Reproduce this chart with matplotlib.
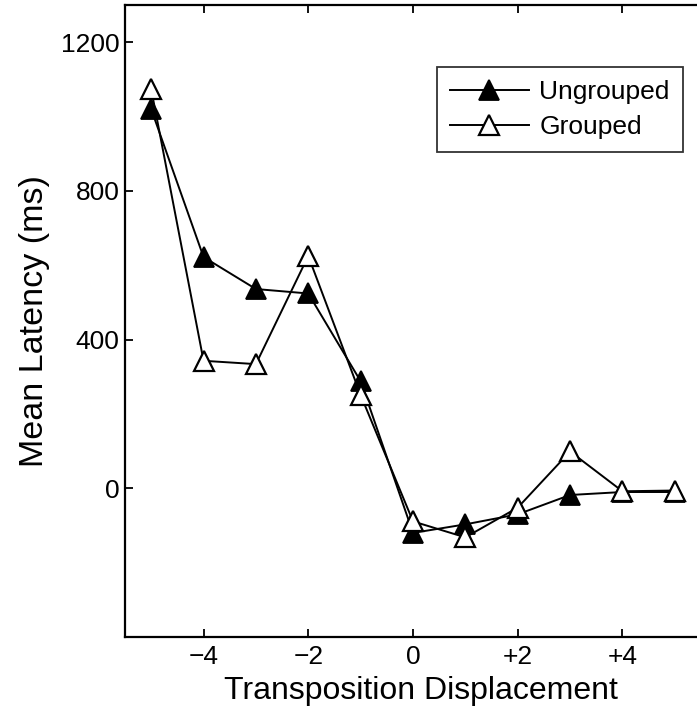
import matplotlib
matplotlib.use("Agg")
import matplotlib.pyplot as plt

plt.rcParams['font.family'] = ['Liberation Sans', 'DejaVu Sans']

displacement = [-5, -4, -3, -2, -1, 0, 1, 2, 3, 4, 5]
ungrouped = [1020, 622, 536, 524, 288, -120, -97, -70, -18, -10, -10]
grouped = [1074, 343, 334, 625, 251, -89, -132, -52, 99, -8, -6]

x_ticks = [-4, -2, 0, 2, 4]
x_tick_labels = ['\u22124', '\u22122', '0', '+2', '+4']
y_ticks = [0, 400, 800, 1200]

fig = plt.figure(figsize=(6.97, 7.12), dpi=100)
ax = fig.add_axes([125 / 697, 1 - 637 / 712, (701 - 125) / 697, (637 - 5) / 712])

ax.plot(displacement, ungrouped, color='black', lw=1.4, marker='^', ms=15,
        mfc='black', mec='black', mew=1.3, label='Ungrouped', clip_on=False)
ax.plot(displacement, grouped, color='black', lw=1.4, marker='^', ms=15,
        mfc='white', mec='black', mew=1.6, label='Grouped', clip_on=False)

ax.set_xlim(-5.5, 5.5)
ax.set_ylim(-400, 1300)
ax.set_xticks(x_ticks)
ax.set_xticklabels(x_tick_labels)
ax.set_yticks(y_ticks)
ax.tick_params(direction='in', length=6, width=1.3, labelsize=19,
               top=True, right=False)
ax.tick_params(axis='x', pad=6)
ax.tick_params(axis='y', pad=4)
for s in ax.spines.values():
    s.set_linewidth(1.6)
ax.spines['right'].set_visible(False)

ax.set_xlabel('Transposition Displacement', fontsize=23, labelpad=0)
ax.xaxis.set_label_coords(0.514, -0.062, transform=ax.transAxes)
ax.xaxis.label.set_va('top')
ax.set_ylabel('Mean Latency (ms)', fontsize=24.5, labelpad=8)

leg = ax.legend(loc='upper right', bbox_to_anchor=(683 / 697, 1 - 67 / 712),
                bbox_transform=fig.transFigure, fontsize=19, frameon=True,
                fancybox=False, edgecolor='black', handlelength=3.0,
                borderpad=0.5, labelspacing=0.42, handletextpad=0.4,
                borderaxespad=0)
leg.get_frame().set_linewidth(1.3)

fig.savefig('out.png', dpi=100)
